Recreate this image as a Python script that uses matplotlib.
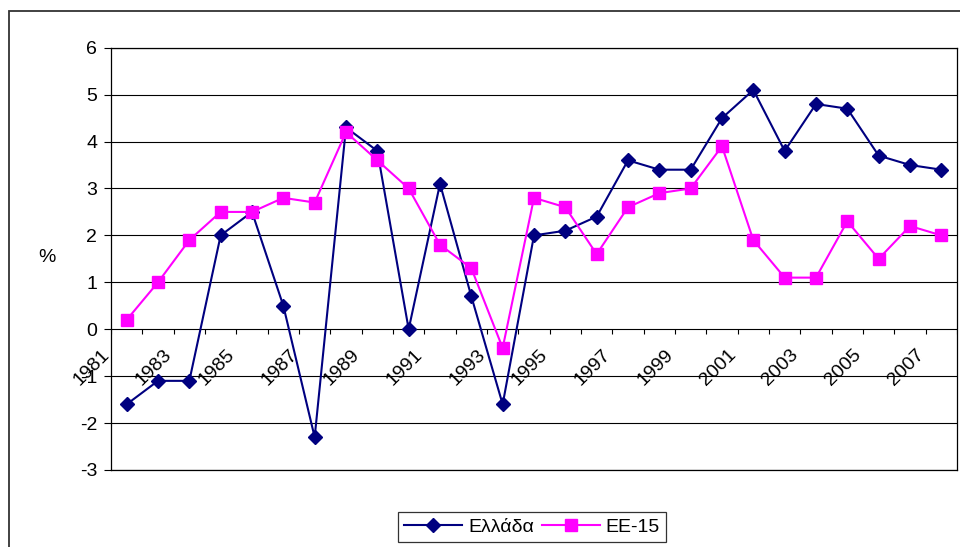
import numpy as np
import matplotlib
matplotlib.use('Agg')
import matplotlib.pyplot as plt
from matplotlib.patches import Rectangle

# ── DATA ──────────────────────────────────────────────────────
years = list(range(1981, 2008))
greece = [-1.6, -1.1, -1.1, 2.0, 2.5, 0.5, -2.3, 4.3, 3.8, 0.0,
          3.1, 0.7, -1.6, 2.0, 2.1, 2.4, 3.6, 3.4, 3.4, 4.5,
          5.1, 3.8, 4.8, 4.7, 3.7, 3.5, 3.4]
eu15 = [0.2, 1.0, 1.9, 2.5, 2.5, 2.8, 2.7, 4.2, 3.6, 3.0,
        1.8, 1.3, -0.4, 2.8, 2.6, 1.6, 2.6, 2.9, 3.0, 3.9,
        1.9, 1.1, 1.1, 2.3, 1.5, 2.2, 2.0]
yticks = list(range(-3, 7))
names = ['Ελλάδα', 'ΕΕ-15']

plt.rcParams['font.family'] = ['Liberation Sans', 'DejaVu Sans']
FS = 14

fig = plt.figure(figsize=(9.6, 5.47), dpi=100)
ax = fig.add_axes([111/960, 1 - 470/547, (957 - 111)/960, (470 - 47.7)/547])

x = np.arange(len(years))
ax.plot(x, greece, color='#000080', lw=1.5, marker='D', ms=7.5, label=names[0])
ax.plot(x, eu15, color='#FF00FF', lw=1.5, marker='s', ms=8, label=names[1])

ax.set_xlim(-0.5, len(years) - 0.5)
ax.set_ylim(-3, 6)
ax.set_yticks(yticks)
ax.set_yticklabels([str(v) for v in yticks], fontsize=FS)
ax.tick_params(axis='y', direction='out', length=5, width=0.8, pad=5)
ax.set_xticks([])

# gridlines + category axis at zero
for v in yticks:
    ax.axhline(v, color='black', lw=0.8, zorder=0.5)
ax.vlines(np.arange(len(years) + 1) - 0.5, 0, -0.1, color='black', lw=0.8)

for sp in ax.spines.values():
    sp.set_linewidth(0.9)
    sp.set_color('black')

# rotated year labels along the zero line
for i, yr in enumerate(years):
    if yr % 2 == 1:
        ax.annotate(str(yr), xy=(i, 0), xytext=(-20, -23), textcoords='offset pixels',
                    rotation=45, ha='right', va='center', rotation_mode='anchor',
                    fontsize=FS, annotation_clip=False)

fig.text(47/960, 1 - 258/547, '%', fontsize=FS, ha='center', va='center')

leg = ax.legend(loc='center', bbox_to_anchor=(532/960, 1 - 527/547),
                bbox_transform=fig.transFigure, ncol=2, fontsize=FS,
                frameon=True, fancybox=False, handlelength=3.0,
                columnspacing=0.4, handletextpad=0.3, borderpad=0.3)
leg.get_frame().set_edgecolor('black')
leg.get_frame().set_linewidth(0.9)

# outer chart frame (cropped on right and bottom)
fig.add_artist(Rectangle((8.5/960, -0.1), 1.2, 1 - 11/547 + 0.1,
                         transform=fig.transFigure, fill=False,
                         edgecolor='#333333', lw=1.3))

fig.savefig('out.png', dpi=100)
